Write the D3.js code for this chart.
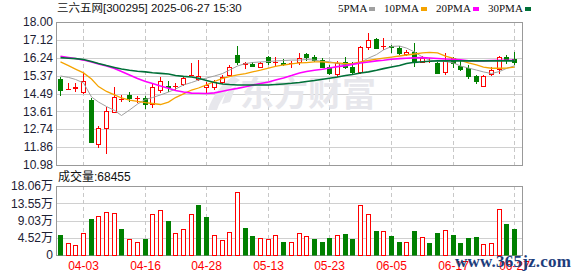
<!DOCTYPE html>
<head>
  <meta charset="utf-8">
  <script src="https://d3js.org/d3.v7.min.js"></script>
  <style>
    body { margin: 0; background: #fff; }
    svg text { font-family: "Liberation Sans", Arial, "Noto Sans CJK SC", sans-serif; }
  </style>
</head>
<body>
  <div id="chart"></div>
  <script>

    var dates = ["03-31", "04-01", "04-02", "04-03", "04-07", "04-08", "04-09", "04-10", "04-11", "04-14",
      "04-15", "04-16", "04-17", "04-18", "04-21", "04-22", "04-23", "04-24", "04-25", "04-28",
      "04-29", "04-30", "05-06", "05-07", "05-08", "05-09", "05-12", "05-13", "05-14", "05-15",
      "05-16", "05-19", "05-20", "05-21", "05-22", "05-23", "05-26", "05-27", "05-28", "05-29",
      "05-30", "06-03", "06-04", "06-05", "06-06", "06-09", "06-10", "06-11", "06-12", "06-13",
      "06-16", "06-17", "06-18", "06-19", "06-20", "06-23", "06-24", "06-25", "06-26", "06-27"];

    var open = [15.19, 14.69, 14.78, 14.56, 14.17, 12.01, 12.81, 13.60, 14.20, 14.42,
      14.26, 14.25, 13.97, 14.66, 14.85, 14.86, 14.96, 15.38, 15.19, 14.79,
      14.82, 15.07, 15.40, 16.38, 15.96, 15.94, 15.78, 16.27, 16.05, 15.99,
      15.99, 16.02, 16.41, 16.27, 16.13, 15.78, 15.45, 16.05, 15.78, 15.53,
      16.76, 17.17, 16.80, 16.84, 16.74, 16.41, 16.51, 16.05, 16.08, 16.00,
      15.56, 16.22, 15.84, 15.76, 15.35, 14.87, 15.43, 15.69, 16.27, 16.20];
    var high = [15.31, 15.02, 14.99, 15.51, 14.25, 12.89, 13.81, 14.79, 14.42, 14.55,
      14.38, 14.37, 15.02, 15.31, 15.10, 14.99, 15.30, 16.00, 16.13, 15.07,
      15.15, 15.40, 15.89, 16.82, 16.05, 16.05, 16.05, 16.33, 16.27, 16.18,
      16.10, 16.49, 16.49, 16.38, 16.22, 15.89, 16.09, 16.30, 16.05, 16.82,
      17.44, 17.20, 17.20, 16.87, 16.82, 16.63, 16.95, 16.33, 16.22, 16.05,
      16.46, 16.30, 16.10, 15.89, 15.40, 15.40, 15.81, 16.33, 16.38, 16.54];
    var low = [14.42, 14.69, 14.63, 14.53, 12.10, 11.88, 11.58, 13.58, 14.12, 14.14,
      14.09, 13.76, 13.84, 14.55, 14.63, 14.66, 14.90, 15.38, 15.15, 14.50,
      14.70, 15.02, 15.35, 15.94, 15.73, 15.84, 15.78, 15.94, 15.89, 15.89,
      15.78, 15.94, 16.13, 16.10, 15.78, 15.45, 15.36, 15.73, 15.48, 15.48,
      16.66, 16.71, 16.66, 16.53, 16.43, 16.38, 15.85, 16.02, 16.05, 15.51,
      15.45, 15.78, 15.64, 15.27, 15.02, 14.87, 15.40, 15.48, 15.97, 15.92];
    var close = [14.66, 14.71, 14.79, 15.12, 12.12, 12.81, 13.63, 14.30, 14.21, 14.25,
      14.27, 13.97, 14.79, 15.10, 14.82, 14.87, 15.24, 15.40, 15.35, 14.91,
      15.07, 15.29, 15.81, 16.05, 15.97, 15.84, 16.00, 16.05, 16.06, 15.96,
      16.00, 16.22, 16.30, 16.13, 15.81, 15.48, 16.00, 15.81, 15.56, 16.76,
      17.12, 16.71, 16.82, 16.78, 16.46, 16.54, 16.05, 16.22, 16.09, 15.51,
      16.10, 16.00, 15.69, 15.36, 15.10, 15.35, 15.64, 16.27, 16.18, 16.04];

    var ma5 = [15.35, 15.28, 15.18, 15.01, 14.32, 14.07, 13.85, 13.66, 13.41, 13.68,
      13.97, 14.20, 14.29, 14.42, 14.56, 14.71, 14.91, 15.03, 15.15, 15.25,
      15.35, 15.47, 15.64, 15.84, 15.96, 16.01, 16.04, 16.06, 16.09, 16.11,
      16.13, 16.13, 16.16, 16.13, 16.06, 16.05, 15.96, 15.89, 15.96, 16.01,
      16.23, 16.40, 16.63, 16.80, 16.82, 16.72, 16.53, 16.28, 16.13, 16.09,
      16.06, 15.99, 15.84, 15.74, 15.64, 15.55, 15.47, 15.57, 15.72, 15.85];
    var ma10 = [16.04, 15.86, 15.69, 15.50, 15.20, 14.83, 14.59, 14.42, 14.27, 14.17,
      14.10, 14.04, 14.00, 13.95, 14.07, 14.29, 14.47, 14.66, 14.76, 14.91,
      15.08, 15.23, 15.32, 15.40, 15.47, 15.55, 15.64, 15.74, 15.82, 15.89,
      15.94, 15.99, 16.01, 16.04, 16.04, 16.01, 15.99, 15.96, 15.96, 16.04,
      16.11, 16.18, 16.23, 16.28, 16.33, 16.38, 16.43, 16.48, 16.51, 16.48,
      16.33, 16.21, 16.11, 15.99, 15.89, 15.79, 15.73, 15.73, 15.74, 15.78];
    var ma20 = [16.32, 16.26, 16.21, 16.13, 16.04, 15.94, 15.84, 15.72, 15.57, 15.40,
      15.23, 15.08, 14.98, 14.86, 14.75, 14.64, 14.56, 14.51, 14.50, 14.49,
      14.52, 14.60, 14.67, 14.74, 14.82, 14.90, 14.98, 15.05, 15.15, 15.25,
      15.37, 15.50, 15.57, 15.63, 15.68, 15.74, 15.81, 15.86, 15.92, 15.99,
      16.04, 16.09, 16.12, 16.17, 16.20, 16.22, 16.24, 16.25, 16.23, 16.21,
      16.18, 16.17, 16.15, 16.10, 16.09, 16.09, 16.11, 16.12, 16.12, 16.12];
    var ma30 = [16.25, 16.22, 16.20, 16.16, 16.06, 15.96, 15.86, 15.77, 15.69, 15.63,
      15.58, 15.55, 15.51, 15.48, 15.45, 15.37, 15.33, 15.30, 15.24, 15.13,
      15.03, 14.96, 14.93, 14.91, 14.91, 14.91, 14.91, 14.91, 14.93, 14.96,
      14.99, 15.03, 15.08, 15.13, 15.19, 15.24, 15.30, 15.37, 15.42, 15.50,
      15.55, 15.63, 15.71, 15.79, 15.86, 15.96, 16.02, 16.05, 16.07, 16.09,
      16.09, 16.09, 16.09, 16.09, 16.09, 16.09, 16.09, 16.09, 16.09, 16.09];

    // 万
    var volume = [5.21, 3.04, 2.52, 5.65, 9.38, 10.08, 11.38, 11.12, 6.78, 4.08,
      3.39, 4.17, 10.86, 11.90, 8.86, 5.65, 6.69, 10.68, 13.03, 9.90,
      5.13, 3.82, 5.91, 16.60, 7.04, 4.95, 4.34, 4.08, 5.13, 3.39,
      3.43, 5.65, 4.86, 4.08, 3.39, 4.34, 5.13, 5.47, 4.08, 13.03,
      10.86, 6.25, 6.17, 4.95, 3.39, 3.39, 6.25, 4.60, 3.13, 5.73,
      6.43, 5.21, 3.13, 4.43, 4.69, 2.78, 3.13, 12.16, 8.08, 6.8455];

    var priceTicks = ["18.00", "17.12", "16.24", "15.37", "14.49", "13.61", "12.74", "11.86", "10.98"];
    var volTicks = [18.06, 13.545, 9.03, 4.515, 0];
    var volTickLabels = ["18.06万", "13.55万", "9.03万", "4.52万", "0"];
    var xTicks = ["04-03", "04-16", "04-28", "05-13", "05-23", "06-05", "06-17", "06-27"];

    var maSeries = [ma5, ma10, ma20, ma30];
    var maNames = ["5PMA", "10PMA", "20PMA", "30PMA"];
    var maColors = ["#a0a0a0", "#f5a300", "#ff00ff", "#007038"];
    var maWidths = [1, 1.3, 1.6, 1.6];

    var title = "三六五网[300295] 2025-06-27 15:30";
    var volTitle = "成交量:68455";

    var W = 578, H = 276;
    var left = 56, right = 522;
    var upColor = "#ff0000", downColor = "#008000";

    var svg = d3.select("#chart").append("svg")
      .attr("width", W)
      .attr("height", H);

    svg.append("rect").attr("width", W).attr("height", H).attr("fill", "#fff");

    var x = d3.scaleBand().domain(dates).range([left, left + 462]);
    function cx(i) { return Math.round(x(dates[i]) + x.bandwidth() / 2); }

    var y = d3.scaleLinear().domain([10.98, 18]).range([165, 22]);
    var yv = d3.scaleLinear().domain([0, 18.06]).range([255, 186]);

    function crisp(v) { return Math.round(v) + 0.5; }

    ////////// grids //////////

    function drawPanel(scale, values, labels, top, bottom) {
      var g = svg.append("g");
      g.selectAll(".hgrid")
        .data(values.slice(1, values.length - 1))
        .enter().append("line")
        .attr("x1", left).attr("x2", right)
        .attr("y1", d => crisp(scale(d))).attr("y2", d => crisp(scale(d)))
        .attr("stroke", "#d0d0d0");

      g.selectAll(".vgrid")
        .data(xTicks)
        .enter().append("line")
        .attr("x1", d => cx(dates.indexOf(d)) + 0.5)
        .attr("x2", d => cx(dates.indexOf(d)) + 0.5)
        .attr("y1", top).attr("y2", bottom)
        .attr("stroke", "#c8c8c8")
        .attr("stroke-dasharray", "4,3");

      g.append("rect")
        .attr("x", left + 0.5).attr("y", top + 0.5)
        .attr("width", right - left).attr("height", bottom - top)
        .attr("fill", "none")
        .attr("stroke", "#999");

      g.selectAll(".ylab")
        .data(values)
        .enter().append("text")
        .attr("x", 53)
        .attr("y", d => scale(d))
        .attr("dy", "0.36em")
        .attr("text-anchor", "end")
        .attr("font-size", "12px")
        .attr("fill", "#1c2033")
        .text((d, i) => labels[i]);
    }

    drawPanel(y, priceTicks.map(Number), priceTicks, 22, 165);
    drawPanel(yv, volTicks, volTickLabels, 186, 255);

    ////////// watermark //////////

    var wm = svg.append("g").attr("fill", "#e7e7ec");
    wm.append("path")
      .attr("d", "M233,76 C222,84 212,96 208,110 L217,110 C221,98 229,88 240,80 Z M226,92 L236,86 L230,102 L222,104 Z");
    wm.append("text")
      .attr("x", 240).attr("y", 106)
      .attr("font-size", "34px")
      .attr("font-weight", "bold")
      .style("font-family", "'Noto Sans CJK SC', sans-serif")
      .text("东方财富");

    ////////// candles //////////

    var idx = d3.range(dates.length);
    var candles = svg.append("g").selectAll("g")
      .data(idx)
      .enter().append("g");

    candles.append("line")
      .attr("x1", i => cx(i) + 0.5).attr("x2", i => cx(i) + 0.5)
      .attr("y1", i => Math.round(y(high[i])))
      .attr("y2", i => Math.round(y(low[i])) + 1)
      .attr("stroke", i => close[i] >= open[i] ? upColor : downColor);

    candles.each(function (i) {
      var g = d3.select(this);
      var top = Math.round(y(Math.max(open[i], close[i])));
      var bot = Math.round(y(Math.min(open[i], close[i])));
      var l = cx(i) - 2;
      if (bot - top < 1) {
        g.append("line")
          .attr("x1", l).attr("x2", l + 5)
          .attr("y1", top + 0.5).attr("y2", top + 0.5)
          .attr("stroke", close[i] >= open[i] ? upColor : downColor);
      } else if (close[i] >= open[i]) {
        g.append("rect")
          .attr("x", l + 0.5).attr("y", top + 0.5)
          .attr("width", 4).attr("height", bot - top)
          .attr("fill", "#fff").attr("stroke", upColor);
      } else {
        g.append("rect")
          .attr("x", l).attr("y", top)
          .attr("width", 5).attr("height", bot - top + 1)
          .attr("fill", downColor);
      }
    });

    ////////// moving averages //////////

    maSeries.forEach(function (s, k) {
      var line = d3.line()
        .x((d, i) => cx(i) + 0.5)
        .y(d => y(d));
      svg.append("path")
        .datum(s)
        .attr("d", line)
        .attr("fill", "none")
        .attr("stroke", maColors[k])
        .attr("stroke-width", maWidths[k]);
    });

    ////////// volume //////////

    function isUp(i) { return i === 0 ? close[0] >= open[0] : close[i] >= close[i - 1]; }

    svg.append("g").selectAll("rect")
      .data(idx)
      .enter().append("rect")
      .attr("x", i => isUp(i) ? cx(i) - 2 + 0.5 : cx(i) - 2)
      .attr("y", i => isUp(i) ? Math.round(yv(volume[i])) + 0.5 : Math.round(yv(volume[i])))
      .attr("width", i => isUp(i) ? 4 : 5)
      .attr("height", i => Math.round(yv(0)) - Math.round(yv(volume[i])) + (isUp(i) ? 0 : 0.5))
      .attr("fill", i => isUp(i) ? "#fff" : downColor)
      .attr("stroke", i => isUp(i) ? upColor : "none");

    ////////// texts //////////

    svg.append("text")
      .attr("x", 57).attr("y", 12)
      .attr("font-size", "11.5px")
      .attr("fill", "#111")
      .text(title);

    var lx = 338;
    maNames.forEach(function (name, k) {
      var t = svg.append("text")
        .attr("x", lx).attr("y", 12)
        .attr("font-size", "11px")
        .style("font-family", "'Liberation Serif', serif")
        .attr("fill", "#111")
        .text(name);
      var w = t.node().getComputedTextLength();
      svg.append("rect")
        .attr("x", Math.round(lx + w + 2)).attr("y", 7)
        .attr("width", 6).attr("height", 4)
        .attr("fill", maColors[k]);
      lx = Math.round(lx + w + 2) + 6 + 9;
    });

    svg.append("text")
      .attr("x", 58).attr("y", 181)
      .attr("font-size", "12px")
      .attr("fill", "#111")
      .text(volTitle);

    svg.append("g").selectAll("text")
      .data(xTicks)
      .enter().append("text")
      .attr("x", d => cx(dates.indexOf(d)) + 0.5)
      .attr("y", 270)
      .attr("text-anchor", "middle")
      .attr("font-size", "12px")
      .attr("fill", "#ff0000")
      .text(d => d);

    // site watermark drawn over the last tick labels, as in the source
    svg.append("text")
      .attr("x", 455).attr("y", 267)
      .attr("font-size", "17px")
      .attr("font-weight", "bold")
      .attr("textLength", 116)
      .style("font-family", "'Liberation Serif', serif")
      .attr("fill", "#1d3d7c")
      .text("www.365jz.com");

  </script>
</body>
